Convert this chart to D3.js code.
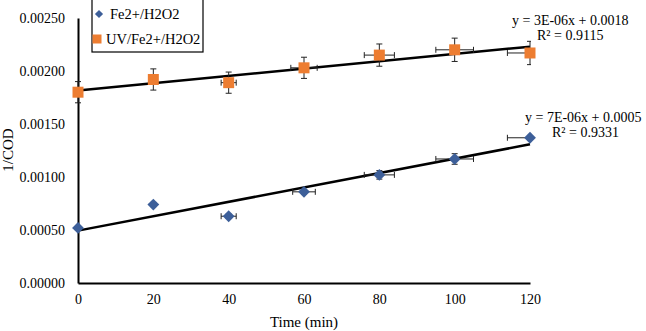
<!DOCTYPE html>
<html>
<head>
  <meta charset="UTF-8">
  <title>1/COD vs time</title>
  <script src="https://d3js.org/d3.v7.min.js"></script>
  <style>
    body { margin: 0; background: #fff; }
    text { font-family: "Liberation Serif", "Times New Roman", serif; fill: #000; }
  </style>
</head>
<body>
  <script>
    // data
    var times = [0, 20, 40, 60, 80, 100, 120];
    var feValues = [0.00052, 0.00074, 0.00063, 0.00086, 0.00102, 0.00117, 0.00137];
    var feYErr = [0, 0.00002, 0.00002, 0.00002, 0.00004, 0.00005, 0.00002];
    var feXErr = [0, 0, 2, 3, 4, 5, 6];
    var uvValues = [0.00180, 0.00192, 0.00189, 0.00203, 0.00215, 0.00220, 0.00217];
    var uvYErr = [0.0001, 0.0001, 0.0001, 0.0001, 0.000105, 0.00011, 0.00011];
    var uvXErr = [0, 1, 2, 3.5, 4, 5, 6];
    var yTicks = [0, 0.0005, 0.001, 0.0015, 0.002, 0.0025];
    var xTicks = [0, 20, 40, 60, 80, 100, 120];
    var seriesNames = ["Fe2+/H2O2", "UV/Fe2+/H2O2"];
    var feEquation = ["y = 7E-06x + 0.0005", "R\u00b2 = 0.9331"];
    var uvEquation = ["y = 3E-06x + 0.0018", "R\u00b2 = 0.9115"];

    var W = 646, H = 331;
    var svg = d3.select("body").append("svg").attr("width", W).attr("height", H);

    var x = d3.scaleLinear().domain([0, 120]).range([78, 530]);
    var y = d3.scaleLinear().domain([0, 0.0025]).range([283, 18]);

    svg.append("defs").append("clipPath").attr("id", "plot")
      .append("rect").attr("x", 60).attr("y", 0).attr("width", 471).attr("height", 300);

    // axes
    var yAxis = svg.append("g").attr("transform", "translate(78,0)")
      .call(d3.axisLeft(y).tickValues(yTicks).tickSize(0).tickPadding(13).tickFormat(d3.format(".5f")));
    var xAxis = svg.append("g").attr("transform", "translate(0,283)")
      .call(d3.axisBottom(x).tickValues(xTicks).tickSize(0).tickPadding(11));
    [xAxis, yAxis].forEach(function (a) {
      a.select(".domain").attr("stroke", "#000").attr("stroke-width", 2);
      a.selectAll("text").style("font-size", "14px").attr("font-family", null);
    });

    svg.append("text").attr("x", 304).attr("y", 327).attr("text-anchor", "middle")
      .style("font-size", "15px").text("Time (min)");
    svg.append("text").attr("transform", "translate(13,150) rotate(-90)")
      .attr("text-anchor", "middle").style("font-size", "15px").text("1/COD");

    function fit(xs, ys) {
      var mx = d3.mean(xs), my = d3.mean(ys);
      var sxy = d3.sum(xs, function (v, i) { return (v - mx) * (ys[i] - my); });
      var sxx = d3.sum(xs, function (v) { return (v - mx) * (v - mx); });
      var b = sxy / sxx;
      return { slope: b, intercept: my - b * mx };
    }

    var plot = svg.append("g").attr("clip-path", "url(#plot)");

    function drawSeries(vals, xErr, yErr, color, diamond) {
      var pts = times.map(function (t, i) {
        return { t: t, v: vals[i], xe: xErr[i], ye: yErr[i] };
      });
      var f = fit(times, vals);
      plot.append("line")
        .attr("x1", x(0)).attr("y1", y(f.intercept))
        .attr("x2", x(120)).attr("y2", y(f.intercept + f.slope * 120))
        .attr("stroke", "#000").attr("stroke-width", 2.5);

      var eb = plot.append("g").attr("stroke", "#222").attr("stroke-width", 1);
      pts.forEach(function (d) {
        var cx = x(d.t), cy = y(d.v);
        if (d.ye > 0) {
          var y1 = y(d.v + d.ye), y2 = y(d.v - d.ye);
          eb.append("line").attr("x1", cx).attr("x2", cx).attr("y1", y1).attr("y2", y2);
          eb.append("line").attr("x1", cx - 3).attr("x2", cx + 3).attr("y1", y1).attr("y2", y1);
          eb.append("line").attr("x1", cx - 3).attr("x2", cx + 3).attr("y1", y2).attr("y2", y2);
        }
        if (d.xe > 0) {
          var x1 = x(d.t - d.xe), x2 = x(d.t + d.xe);
          eb.append("line").attr("x1", x1).attr("x2", x2).attr("y1", cy).attr("y2", cy);
          eb.append("line").attr("x1", x1).attr("x2", x1).attr("y1", cy - 3).attr("y2", cy + 3);
          eb.append("line").attr("x1", x2).attr("x2", x2).attr("y1", cy - 3).attr("y2", cy + 3);
        }
      });

      svg.append("g").selectAll("path").data(pts).enter().append("path")
        .attr("d", d3.symbol().type(d3.symbolSquare).size(diamond ? 70 : 121))
        .attr("transform", function (d) {
          return "translate(" + x(d.t) + "," + y(d.v) + ")" + (diamond ? " rotate(45)" : "");
        })
        .attr("fill", color);
    }

    drawSeries(feValues, feXErr, feYErr, "#3d5f99", true);
    drawSeries(uvValues, uvXErr, uvYErr, "#ed7d31", false);

    // equations
    function eq(lines, x0, x1, yy) {
      svg.append("text").attr("x", x0).attr("y", yy).style("font-size", "14px").text(lines[0]);
      svg.append("text").attr("x", x1).attr("y", yy + 15).style("font-size", "14px").text(lines[1]);
    }
    eq(uvEquation, 512, 537, 25);
    eq(feEquation, 525, 552, 122);

    // legend
    var lg = svg.append("g");
    lg.append("rect").attr("x", 92).attr("y", -1).attr("width", 111).attr("height", 53)
      .attr("fill", "#fff").attr("stroke", "#000").attr("stroke-width", 1.2);
    lg.append("path").attr("d", d3.symbol().type(d3.symbolSquare).size(34))
      .attr("transform", "translate(99,14) rotate(45)").attr("fill", "#3d5f99");
    lg.append("rect").attr("x", 92.5).attr("y", 34.5).attr("width", 9).attr("height", 9).attr("fill", "#ed7d31");
    lg.append("text").attr("x", 110).attr("y", 19).style("font-size", "14.5px").text(seriesNames[0]);
    lg.append("text").attr("x", 106).attr("y", 44).style("font-size", "14.5px").text(seriesNames[1]);
  </script>
</body>
</html>
